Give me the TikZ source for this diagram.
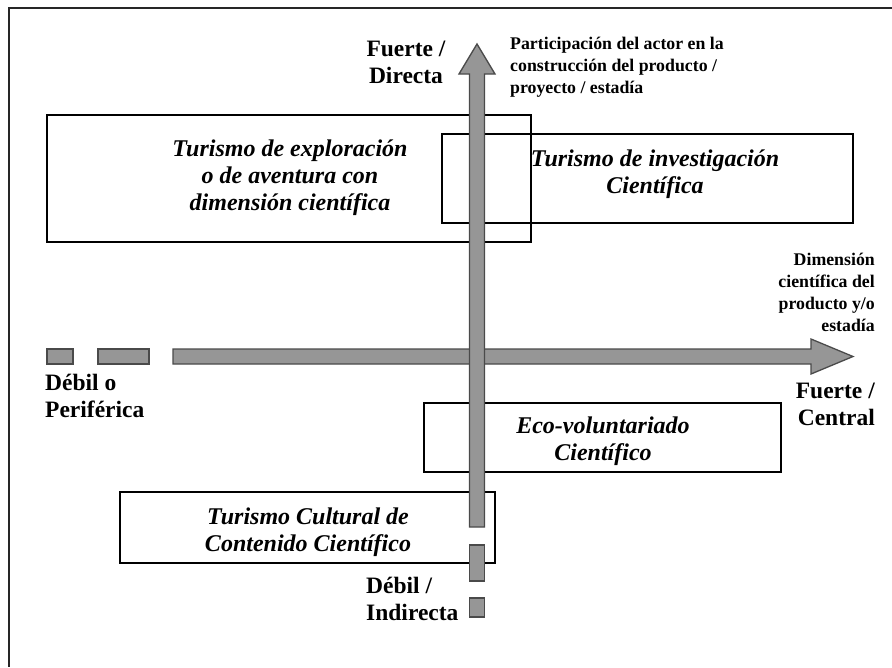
\documentclass[tikz,border=0pt]{standalone}
\usepackage{fontspec}
\setmainfont{Liberation Serif}
\begin{document}
\begin{tikzpicture}[x=1pt,y=-1pt,
  box/.style={draw=black,line width=1.6pt},
  arrowshape/.style={fill=arrowgray,draw=arrowedge,line width=1.3pt,line join=miter},
  boxtext/.style={align=center,inner sep=0pt,font=\fontsize{24}{27}\selectfont\bfseries\itshape},
  axislabel/.style={inner sep=0pt,font=\fontsize{23.5}{27}\selectfont\bfseries},
  smalllabel/.style={inner sep=0pt,font=\fontsize{17.8}{22}\selectfont\bfseries},
  frameline/.style={draw=black!85,line width=1.5pt}]
\definecolor{arrowgray}{HTML}{969696}
\definecolor{arrowedge}{HTML}{4A4A4A}
\useasboundingbox (0,0) rectangle (892,667);
% frame
\coordinate (fTL) at (9,8);
\coordinate (fTR) at (892,8);
\coordinate (fBL) at (9,667);
\draw[frameline] (fTR) -- (fTL) -- (fBL);
% boxes
\draw[box] (47,115) rectangle (531,242);
\draw[box] (442,134) rectangle (853,223);
\draw[box] (424,403) rectangle (781,472);
\draw[box] (120,492) rectangle (495,563);
% horizontal axis dashes and arrow
\draw[arrowshape] (47,349) rectangle (73,364);
\draw[arrowshape] (98,349) rectangle (149,364);
\draw[arrowshape] (173,349) -- (811,349) -- (811,339) -- (853,356.5) -- (811,374) -- (811,364) -- (173,364) -- cycle;
% vertical axis dashes and arrow
\draw[arrowshape] (469.5,545) rectangle (484.5,581);
\draw[arrowshape] (469.5,598) rectangle (484.5,617);
\draw[arrowshape] (469.5,527) -- (469.5,74) -- (459,74) -- (477,44) -- (495,74) -- (484.5,74) -- (484.5,527) -- cycle;
% box texts
\node[boxtext] (t1) at (290,178) {Turismo de exploración\\o de aventura con\\dimensión científica};
\node[boxtext] (t2) at (655,174) {Turismo de investigación\\Científica};
\node[boxtext] (t3) at (603,441) {Eco-voluntariado\\Científico};
\node[boxtext] (t4) at (308,532) {Turismo Cultural de\\Contenido Científico};
% axis labels
\node[axislabel,align=center] (fd) at (406,62) {Fuerte /\\Directa};
\node[smalllabel,align=left,anchor=west] (part) at (510,67) {Participación del actor en la\\construcción del producto /\\proyecto / estadía};
\node[smalllabel,align=right,anchor=east] (dim) at (875,292) {Dimensión\\científica del\\producto y/o\\estadía};
\node[axislabel,align=left,anchor=west] (dp) at (45,396) {Débil o\\Periférica};
\node[axislabel,align=right,anchor=east] (fc) at (875,404) {Fuerte /\\Central};
\node[axislabel,align=left,anchor=west] (di) at (366,599) {Débil /\\Indirecta};
\end{tikzpicture}
\end{document}
